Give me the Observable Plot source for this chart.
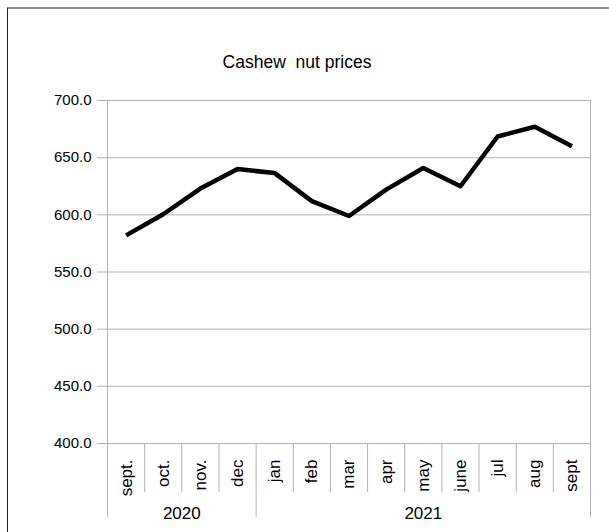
<!DOCTYPE html>
<html>
<head>
<meta charset="utf-8">
<script src="https://cdn.jsdelivr.net/npm/d3@7"></script>
<script src="https://cdn.jsdelivr.net/npm/@observablehq/plot@0.6"></script>
<style>
  html, body { margin: 0; padding: 0; background: #fff; overflow: hidden; }
  #page { position: relative; width: 609px; height: 532px; }
  #box { position: absolute; left: 7px; top: 7px; width: 800px; height: 800px;
         border-top: 2px solid #888; border-left: 1px solid #222; box-sizing: border-box; }
  #title { position: absolute; left: 0; top: 52px; width: 594px; text-align: center;
           font: 17.5px "Liberation Sans", Arial, sans-serif; line-height: 20px; white-space: pre; color: #000; }
  #chart { position: absolute; left: 0; top: 0; }
</style>
</head>
<body>
<div id="page">
  <div id="box"></div>
  <div id="chart"></div>
  <div id="title"></div>
</div>
<script>
const title = "Cashew  nut prices";
const months = ["sept.", "oct.", "nov.", "dec", "jan", "feb", "mar", "apr", "may", "june", "jul", "aug", "sept"];
const prices = [582, 600.5, 623, 640, 636.5, 612, 599, 622, 641, 625, 668.5, 677, 660];
const years = ["2020", "2021"];
const monthsPerYear = [4, 9];
const yTicks = [400, 450, 500, 550, 600, 650, 700];

document.getElementById("title").textContent = title;

// year spans in month-index units
let start = -0.5;
const yearSpans = years.map((year, k) => {
  const s = start, e = start + monthsPerYear[k];
  start = e;
  return {year, start: s, end: e, center: (s + e) / 2};
});
const yearBounds = [yearSpans[0].start, ...yearSpans.map(d => d.end)];
const monthBounds = d3.range(months.length + 1).map(i => i - 0.5).filter(b => !yearBounds.includes(b));

const grey = "#b3b3b3";
const W = 609, H = 532, ML = 107, MR = 19, MT = 100, MB = 89;
const frameH = H - MT - MB;

const chart = Plot.plot({
  width: W, height: H,
  marginLeft: ML, marginRight: MR, marginTop: MT, marginBottom: MB,
  style: {fontFamily: '"Liberation Sans", Arial, sans-serif', fontSize: "15px", background: "transparent", color: "black"},
  x: {type: "linear", domain: [-0.5, months.length - 0.5], axis: null},
  y: {domain: [400, 700], axis: null},
  marks: [
    Plot.gridY(yTicks, {stroke: grey, strokeOpacity: 1}),
    Plot.frame({stroke: grey}),
    Plot.axisY({ticks: yTicks, tickFormat: d3.format(".1f"), tickSize: 10, tickPadding: 6, stroke: grey, fill: "black", fontSize: 15}),
    Plot.ruleX(monthBounds, {x: d => d, stroke: grey, insetTop: frameH, insetBottom: -49}),
    Plot.ruleX(yearBounds, {x: d => d, stroke: grey, insetTop: frameH, insetBottom: -74}),
    Plot.text(months, {x: (d, i) => i, text: d => d, frameAnchor: "bottom", rotate: -90, textAnchor: "end", lineAnchor: "middle", dy: 16, fontSize: 17, fill: "black"}),
    Plot.text(yearSpans, {x: "center", text: "year", frameAnchor: "bottom", dy: 70, fontSize: 17, fill: "black", lineAnchor: "middle"}),
    Plot.line(prices, {x: (d, i) => i, y: d => d, stroke: "black", strokeWidth: 4.5, strokeLinejoin: "round", strokeLinecap: "butt"})
  ]
});
document.getElementById("chart").appendChild(chart);
</script>
</body>
</html>
